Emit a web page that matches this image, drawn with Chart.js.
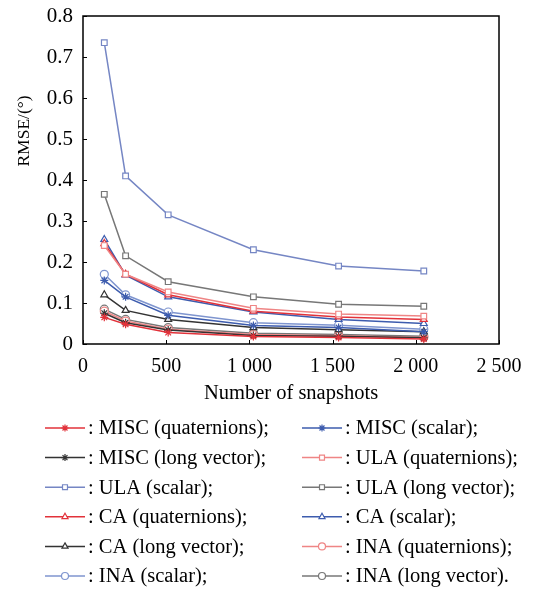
<!DOCTYPE html>
<html>
<head>
<meta charset="utf-8">
<script src="https://cdn.jsdelivr.net/npm/chart.js@4"></script>
<style>
  html, body { margin: 0; padding: 0; background: #fff; }
  #wrap { width: 535px; height: 591px; }
</style>
</head>
<body>
<div id="wrap"><canvas id="rmseChart" width="535" height="591"></canvas></div>
<script>
// snapshots on the x axis
const snapshots = [128, 256, 512, 1024, 1536, 2048];

// RMSE values
const miscQuat   = [0.065, 0.048, 0.028, 0.018, 0.016, 0.012];
const miscScalar = [0.155, 0.115, 0.070, 0.045, 0.040, 0.030];
const miscLong   = [0.075, 0.052, 0.034, 0.021, 0.019, 0.015];
const ulaQuat    = [0.240, 0.170, 0.127, 0.087, 0.073, 0.068];
const ulaScalar  = [0.735, 0.410, 0.315, 0.230, 0.190, 0.178];
const ulaLong    = [0.365, 0.215, 0.152, 0.115, 0.097, 0.092];
const caQuat     = [0.245, 0.170, 0.120, 0.080, 0.066, 0.060];
const caScalar   = [0.255, 0.168, 0.115, 0.078, 0.060, 0.050];
const caLong     = [0.120, 0.082, 0.060, 0.040, 0.035, 0.030];
const inaQuat    = [0.080, 0.056, 0.036, 0.023, 0.020, 0.016];
const inaScalar  = [0.170, 0.120, 0.078, 0.052, 0.046, 0.036];
const inaLong    = [0.085, 0.060, 0.040, 0.026, 0.023, 0.019];

const seriesLabels = [
    ": MISC (quaternions);", ": MISC (scalar);",
    ": MISC (long vector);", ": ULA (quaternions);",
    ": ULA (scalar);", ": ULA (long vector);",
    ": CA (quaternions);", ": CA (scalar);",
    ": CA (long vector);", ": INA (quaternions);",
    ": INA (scalar);", ": INA (long vector)."
];
const seriesData = [miscQuat, miscScalar, miscLong, ulaQuat, ulaScalar, ulaLong,
                    caQuat, caScalar, caLong, inaQuat, inaScalar, inaLong];
const seriesColors = ["#e2323a", "#3d5cae", "#333333", "#ef8585", "#7586c4", "#777777",
                      "#e2323a", "#3d5cae", "#333333", "#ef8585", "#7f95cf", "#777777"];
const seriesMarkers = ["star", "star", "star", "rect", "rect", "rect",
                       "triangle", "triangle", "triangle", "circle", "circle", "circle"];

const yTicks = [0, 0.1, 0.2, 0.3, 0.4, 0.5, 0.6, 0.7, 0.8];
const xTicks = [0, 500, 1000, 1500, 2000, 2500];

const serif = "'Liberation Serif', 'DejaVu Serif', serif";

// draw the frame, inward ticks, the y title and the two-column legend
const framePlugin = {
    id: "frame",
    afterDraw(chart) {
        const ctx = chart.ctx;
        const a = chart.chartArea;
        const xs = chart.scales.x, ys = chart.scales.y;
        ctx.save();
        ctx.strokeStyle = "#000";
        ctx.lineWidth = 1.5;
        ctx.strokeRect(a.left, a.top, a.right - a.left, a.bottom - a.top);
        ctx.lineWidth = 1;
        yTicks.forEach(v => {
            const y = Math.round(ys.getPixelForValue(v)) + 0.5;
            ctx.beginPath(); ctx.moveTo(a.left, y); ctx.lineTo(a.left + 4, y); ctx.stroke();
        });
        xTicks.forEach(v => {
            const x = Math.round(xs.getPixelForValue(v)) + 0.5;
            ctx.beginPath(); ctx.moveTo(x, a.bottom); ctx.lineTo(x, a.bottom - 4); ctx.stroke();
        });

        // y axis title, sits above the axis centre like in the figure
        ctx.save();
        ctx.translate(24, 131);
        ctx.rotate(-Math.PI / 2);
        ctx.fillStyle = "#000";
        ctx.font = "17.5px " + serif;
        ctx.textAlign = "center";
        ctx.textBaseline = "middle";
        ctx.fillText("RMSE/(°)", 0, 0);
        ctx.restore();

        // legend
        ctx.font = "20.5px " + serif;
        ctx.textBaseline = "middle";
        ctx.textAlign = "left";
        chart.data.datasets.forEach((ds, i) => {
            const col = i % 2, row = Math.floor(i / 2);
            const x0 = col === 0 ? 45 : 302;
            const y = 428 + row * 29.6;
            ctx.strokeStyle = ds.borderColor;
            ctx.lineWidth = 1.5;
            ctx.beginPath(); ctx.moveTo(x0, y); ctx.lineTo(x0 + 40, y); ctx.stroke();
            ctx.fillStyle = "#fff";
            ctx.lineWidth = 1.2;
            Chart.helpers.drawPoint(ctx, {
                pointStyle: ds.pointStyle, radius: 3.5, rotation: 0, borderWidth: 1.2
            }, x0 + 20, y);
            ctx.fillStyle = "#000";
            ctx.fillText(ds.label, x0 + 43, y + 1);
        });
        ctx.restore();
    }
};

const datasets = seriesData.map((vals, i) => ({
    label: seriesLabels[i],
    data: snapshots.map((s, k) => ({ x: s, y: vals[k] })),
    borderColor: seriesColors[i],
    backgroundColor: "#fff",
    pointStyle: seriesMarkers[i],
    pointRadius: 4,
    pointBorderWidth: 1.2,
    pointBorderColor: seriesColors[i],
    pointBackgroundColor: "#fff",
    borderWidth: 1.5,
    tension: 0,
    fill: false
}));

new Chart(document.getElementById("rmseChart"), {
    type: "line",
    data: { datasets: datasets },
    options: {
        responsive: false,
        animation: false,
        layout: { padding: { left: 0, top: 16, right: 36, bottom: 185 } },
        plugins: {
            legend: { display: false },
            tooltip: { enabled: false }
        },
        scales: {
            x: {
                type: "linear",
                min: 0, max: 2500,
                afterBuildTicks: s => { s.ticks = xTicks.map(v => ({ value: v })); },
                afterFit: s => { s.height = 62; s.paddingLeft = 0; s.paddingRight = 0; },
                grid: { display: false, drawTicks: false },
                border: { display: false },
                ticks: {
                    color: "#000",
                    padding: 11,
                    font: { family: serif, size: 20 },
                    callback: v => v >= 1000 ? String(Math.floor(v / 1000)) + " " + String(v % 1000).padStart(3, "0") : String(v)
                },
                title: {
                    display: true,
                    text: "Number of snapshots",
                    color: "#000",
                    font: { family: serif, size: 20.5 },
                    padding: { top: 2, bottom: 0 }
                }
            },
            y: {
                min: 0, max: 0.8,
                afterBuildTicks: s => { s.ticks = yTicks.map(v => ({ value: v })); },
                afterFit: s => { s.width = 83; s.paddingTop = 0; s.paddingBottom = 0; },
                grid: { display: false, drawTicks: false },
                border: { display: false },
                ticks: {
                    color: "#000",
                    padding: 10,
                    font: { family: serif, size: 21 },
                    callback: v => v === 0 ? "0" : v.toFixed(1)
                }
            }
        }
    },
    plugins: [framePlugin]
});
</script>
</body>
</html>
